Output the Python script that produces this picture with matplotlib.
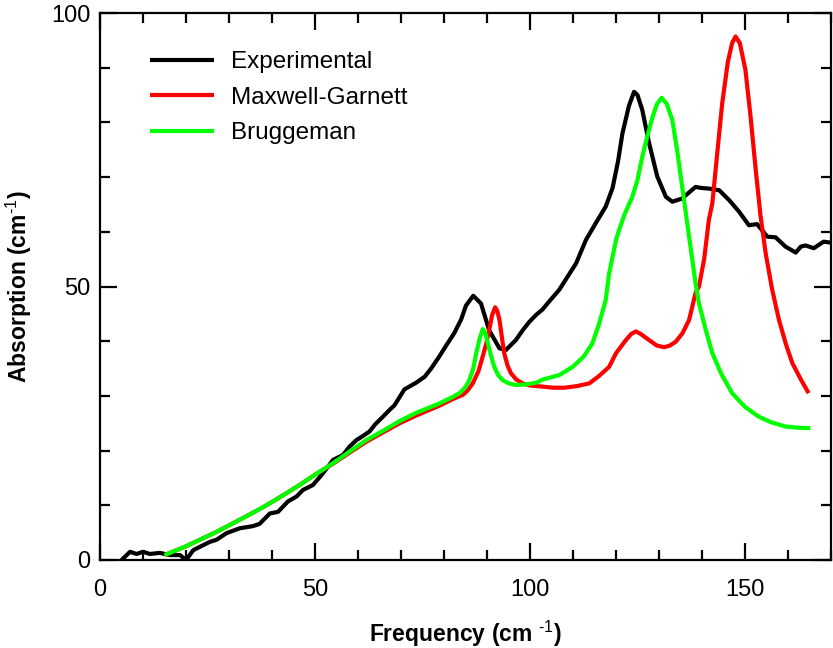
import numpy as np
import matplotlib
matplotlib.use('Agg')
import matplotlib.pyplot as plt
from matplotlib.ticker import MultipleLocator

plt.rcParams['font.family'] = ['Liberation Sans', 'DejaVu Sans']
plt.rcParams['mathtext.fontset'] = 'custom'
plt.rcParams['mathtext.rm'] = 'Liberation Sans'
plt.rcParams['mathtext.it'] = 'Liberation Sans'
plt.rcParams['mathtext.bf'] = 'Liberation Sans:bold'

exp_freq = [5.0, 7.0, 8.5, 10, 11.6, 13.9, 16.3, 18.6, 20, 21.7, 23.2, 25.5, 27.1, 29.4,
            32.5, 35.6, 37.1, 39.5, 41.4, 43.7, 45.7, 47.2, 49.5, 51.8, 54.2, 56.5, 58,
            59.6, 61, 62.7, 64, 65.8, 67.3, 68.5, 70.8, 73.5, 75.5, 77, 78.9, 80.5, 82.4,
            84, 85.1, 86.8, 88.6, 90.5, 92.9, 94.4, 96.7, 98.3, 99.8, 101.4, 102.9, 104.5,
            106.8, 108.5, 110.7, 113, 115.3, 117.6, 119.2, 120.5, 121.5, 123, 124.2, 125,
            126.1, 127.7, 129.6, 131.6, 133.1, 135.4, 137, 138.5, 140, 141.6, 144, 146.3,
            148.6, 150.9, 152.8, 155.2, 157.1, 159.4, 161.8, 163, 164.1, 166, 168.3, 170]
exp_abs = [0.0, 1.5, 1.1, 1.5, 1.1, 1.3, 0.9, 0.9, 0.0, 1.8, 2.4, 3.3, 3.7, 4.9,
           5.8, 6.2, 6.6, 8.5, 8.8, 10.7, 11.6, 12.8, 13.7, 15.8, 18.3, 19.2, 20.7,
           21.9, 22.6, 23.5, 24.8, 26.2, 27.4, 28.3, 31.2, 32.4, 33.5, 35.0, 37.2, 39.2, 41.5,
           44.0, 46.5, 48.3, 46.9, 42.0, 38.7, 38.4, 40.2, 42.0, 43.5, 44.8, 45.8, 47.3,
           49.4, 51.5, 54.2, 58.5, 61.6, 64.6, 68.0, 73.0, 78.0, 83.0, 85.6, 85.0,
           82.3, 76.2, 70.1, 66.4, 65.5, 66.1, 67.2, 68.2, 68.0, 67.9, 67.6, 65.8,
           63.7, 61.2, 61.4, 59.1, 59.0, 57.3, 56.2, 57.3, 57.5, 57.0, 58.2, 58.0]

# Maxwell-Garnett model
mg_freq = [15, 20, 23.2, 27, 30.9, 35, 38.7, 42.5, 46.4, 50, 54.2, 58, 61.9, 66, 69.7,
           73.5, 78.9, 82, 84.4, 85.5, 86.7, 88, 89, 89.8, 90.5, 91.2, 91.9, 92.4, 92.9,
           93.5, 94, 94.8, 95.6, 96.8, 98.3, 100, 102.9, 105.3, 108, 111, 113.8, 116,
           118.4, 120, 122.3, 123.5, 124.6, 125.8, 127.7, 129.5, 131.2, 132.5, 133.9,
           135.5, 137, 138.5, 139.3, 140.5, 141.6, 142.4, 143.5, 144.7, 146, 147, 147.8,
           148.8, 150.1, 151.3, 152.5, 153.6, 154.8, 156.3, 157.9, 159.5, 161, 163, 164.8]
mg_abs = [0.9, 2.5, 3.7, 5.1, 6.7, 8.4, 10.0, 11.8, 13.7, 15.6, 17.6, 19.6, 21.6, 23.4, 25.0,
          26.4, 28.2, 29.4, 30.2, 31.0, 32.3, 34.5, 37.2, 39.5, 42.0, 44.8, 46.2, 45.5, 43.9,
          40.5, 37.8, 35.5, 34.1, 33.0, 32.3, 31.9, 31.7, 31.5, 31.5, 31.8, 32.3, 33.6,
          35.3, 37.8, 40.2, 41.3, 41.8, 41.3, 40.2, 39.2, 38.9, 39.2, 39.9,
          41.5, 43.9, 48.8, 50.0, 55.0, 62.2, 65.2, 74.0, 83.5, 91.0, 94.5, 95.7,
          94.5, 89.6, 81.0, 71.3, 63.0, 56.1, 49.5, 43.9, 39.5, 36.0, 33.0, 30.5]

# Bruggeman model
br_freq = [15, 20, 23.2, 27, 30.9, 35, 38.7, 42.5, 46.4, 50, 54.2, 58, 61.9, 66, 69.7,
           73.5, 78.9, 82, 83.6, 85, 85.9, 86.8, 87.5, 88.3, 89, 89.6, 90.2, 91, 91.7,
           92.6, 93.6, 95, 96.7, 99, 101.4, 103, 106.8, 109.9, 112.5, 114.5, 116, 117.6,
           118.4, 120, 120.7, 122, 123.8, 125, 126.1, 127.3, 128.5, 129.5, 130.6, 131.8,
           133.1, 134.2, 135.4, 137, 138.5, 139.3, 140.9, 142.4, 144.5, 147, 150, 153.2,
           156, 159.4, 162, 165.2]
br_abs = [0.9, 2.5, 3.7, 5.1, 6.7, 8.4, 10.0, 11.8, 13.7, 15.6, 17.7, 19.8, 21.9, 23.7, 25.4,
          26.9, 28.6, 29.8, 30.5, 31.6, 32.9, 35.0, 37.8, 40.5, 42.2, 41.5, 39.6, 37.2, 35.3,
          33.8, 32.9, 32.3, 32.0, 32.1, 32.4, 33.0, 33.8, 35.3, 37.2, 39.6, 43.0, 47.5,
          52.4, 58.5, 60.3, 63.2, 66.4, 69.5, 73.7, 77.5, 81.0, 83.3, 84.5, 83.4,
          80.4, 75.0, 68.2, 59.1, 50.6, 46.9, 42.0, 37.8, 34.0, 30.5, 28.0, 26.2,
          25.2, 24.4, 24.2, 24.1]

fig = plt.figure(figsize=(8.33, 6.48), dpi=100)
ax = fig.add_axes([100 / 833, 1 - 560 / 648, 731 / 833, 547 / 648])

lw = 3.0
ax.plot(exp_freq, exp_abs, color='black', lw=lw, label='Experimental',
        solid_joinstyle='round', solid_capstyle='butt')
ax.plot(mg_freq, mg_abs, color='#ff0000', lw=lw, label='Maxwell-Garnett',
        solid_joinstyle='round', solid_capstyle='butt')
ax.plot(br_freq, br_abs, color='#00ff00', lw=lw, label='Bruggeman',
        solid_joinstyle='round', solid_capstyle='butt')

ax.set_xlim(0, 170)
ax.set_ylim(0, 100)
ax.xaxis.set_major_locator(MultipleLocator(50))
ax.xaxis.set_minor_locator(MultipleLocator(10))
ax.yaxis.set_major_locator(MultipleLocator(50))
ax.yaxis.set_minor_locator(MultipleLocator(10))
ax.tick_params(which='both', direction='in', top=True, right=True, width=1.6,
               labelsize=17, color='black')
ax.tick_params(which='major', length=12, pad=14)
ax.tick_params(axis='y', which='major', pad=7)
ax.tick_params(which='minor', length=7)
for sp in ax.spines.values():
    sp.set_linewidth(1.6)

ax.set_xlabel('Frequency (cm $^{\u2010 1}$)', fontsize=16.5, fontweight='bold')
ax.set_ylabel('Absorption (cm$^{\u2010 1}$)', fontsize=16.5, fontweight='bold')
ax.xaxis.set_label_coords(0.5, -0.107)
ax.yaxis.set_label_coords(-0.09, 0.5)

ax.legend(loc='upper left', bbox_to_anchor=(0.068, 0.93), frameon=False,
          fontsize=17.5, handlelength=2.65, handletextpad=0.7, labelspacing=0.55,
          borderaxespad=0, borderpad=0)

fig.savefig('out.png', dpi=100)
